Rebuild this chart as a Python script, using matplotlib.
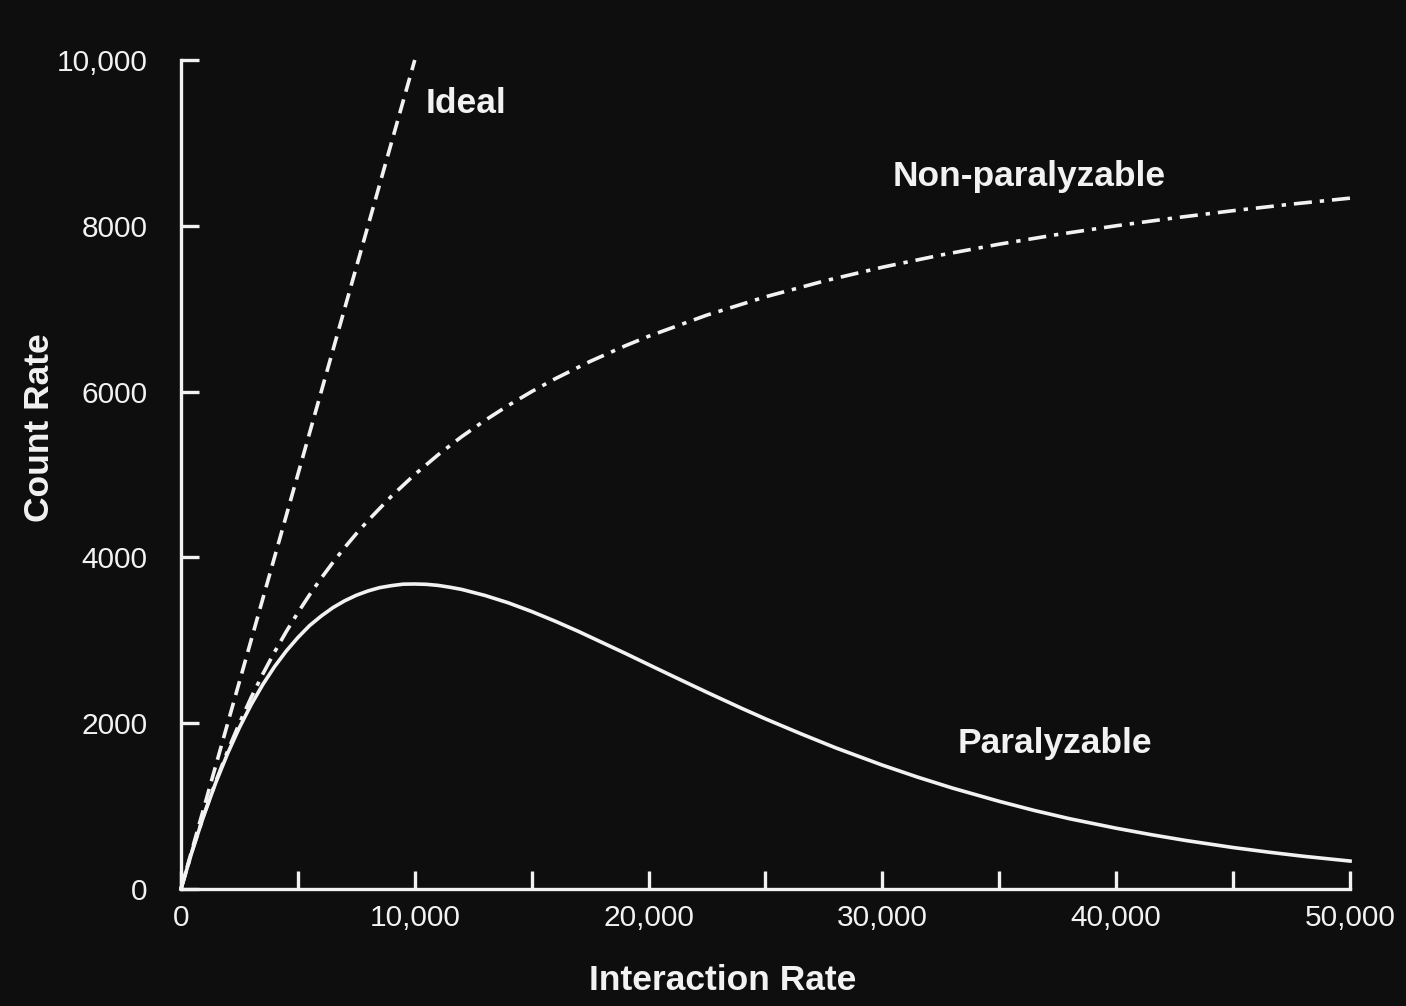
import matplotlib
matplotlib.use("Agg")
import matplotlib.pyplot as plt

# Values
ideal_x = [0, 10000]
ideal_y = [0, 10000]

nonpar_x = [0, 500, 1000, 1500, 2000, 2500, 3000, 3500, 4000, 4500, 5000, 5500, 6000,
            6500, 7000, 7500, 8000, 9000, 10000, 11000, 12000, 13000, 14000, 15000,
            16000, 17500, 19000, 20000, 22500, 25000, 27500, 30000, 32500, 35000,
            37500, 40000, 42500, 45000, 47500, 50000]
nonpar_y = [0, 476, 909, 1304, 1667, 2000, 2308, 2593, 2857, 3103, 3333, 3548, 3750,
            3939, 4118, 4286, 4444, 4737, 5000, 5238, 5455, 5652, 5833, 6000,
            6154, 6364, 6552, 6667, 6923, 7143, 7333, 7500, 7647, 7778,
            7895, 8000, 8095, 8182, 8261, 8333]

par_x = [0, 500, 1000, 1500, 2000, 2500, 3000, 3500, 4000, 4500, 5000, 5500, 6000,
         6500, 7000, 7500, 8000, 8500, 9000, 9500, 10000, 10500, 11000, 11500, 12000,
         13000, 14000, 15000, 16000, 17000, 18000, 19000, 20000, 21000, 22500, 24000,
         25000, 26500, 28000, 30000, 31500, 33000, 35000, 36500, 38000, 40000, 41500,
         43000, 45000, 46500, 48000, 50000]
par_y = [0, 476, 905, 1291, 1637, 1947, 2222, 2466, 2681, 2869, 3033, 3177, 3293,
         3394, 3476, 3543, 3595, 3635, 3659, 3677, 3679, 3675, 3662, 3640, 3614,
         3541, 3452, 3347, 3231, 3107, 2975, 2843, 2707, 2572, 2372, 2177,
         2052, 1874, 1703, 1494, 1350, 1217, 1057, 947, 848, 733, 655,
         584, 500, 445, 395, 337]

x_ticks = [0, 5000, 10000, 15000, 20000, 25000, 30000, 35000, 40000, 45000, 50000]
x_tick_labels = ["0", "", "10,000", "", "20,000", "", "30,000", "", "40,000", "", "50,000"]
y_ticks = [0, 2000, 4000, 6000, 8000, 10000]
y_tick_labels = ["0", "2000", "4000", "6000", "8000", "10,000"]

bg = "#0e0e0e"
fg = "#f2f2f2"
plt.rcParams['font.family'] = ['Liberation Sans', 'DejaVu Sans']

fig = plt.figure(figsize=(14.06, 10.06), dpi=100, facecolor=bg)
ax = fig.add_axes([0.1287, 0.1163, 0.8315, 0.8241], facecolor=bg)

lw = 2.6
ax.plot(ideal_x, ideal_y, color=fg, lw=lw, linestyle=(0, (4, 2.2)), clip_on=False)
ax.plot(nonpar_x, nonpar_y, color=fg, lw=lw, linestyle=(0, (5, 2.2, 1.2, 2.2)), clip_on=False)
ax.plot(par_x, par_y, color=fg, lw=lw, linestyle='-', clip_on=False)

ax.set_xlim(0, 50000)
ax.set_ylim(0, 10000)

for s in ['top', 'right']:
    ax.spines[s].set_visible(False)
for s in ['left', 'bottom']:
    ax.spines[s].set_color(fg)
    ax.spines[s].set_linewidth(2.4)

ax.set_xticks(x_ticks)
ax.set_xticklabels(x_tick_labels)
ax.set_yticks(y_ticks)
ax.set_yticklabels(y_tick_labels)
ax.tick_params(axis='x', direction='in', length=13, width=2.4, color=fg,
               labelcolor=fg, labelsize=21.5, pad=11)
ax.tick_params(axis='y', direction='in', length=13, width=2.4, color=fg,
               labelcolor=fg, labelsize=21.5, pad=24)

fig.text(723 / 1406, 1 - 980 / 1006, "Interaction Rate", color=fg, fontsize=25.5,
         fontweight='bold', ha='center', va='center')
fig.text(40 / 1406, 1 - 428 / 1006, "Count Rate", color=fg, fontsize=25.5,
         fontweight='bold', ha='center', va='center', rotation=90)

ax.text(10450, 9480, "Ideal", color=fg, fontsize=25.5, fontweight='bold', va='center', ha='left')
ax.text(30450, 8600, "Non-paralyzable", color=fg, fontsize=25.5, fontweight='bold', va='center', ha='left')
ax.text(33200, 1750, "Paralyzable", color=fg, fontsize=25.5, fontweight='bold', va='center', ha='left')

fig.savefig("out.png", dpi=100, facecolor=bg)
